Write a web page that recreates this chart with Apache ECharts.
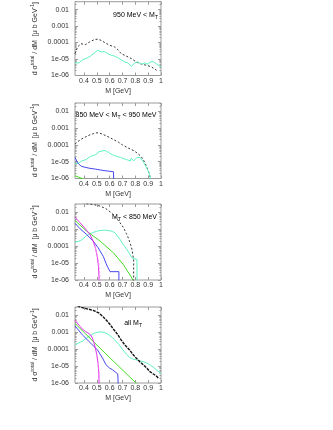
<!DOCTYPE html>
<html><head><meta charset="utf-8">
<script src="https://cdn.jsdelivr.net/npm/echarts@6/dist/echarts.min.js"></script>
<style>html,body{margin:0;padding:0;background:#fff}#c{width:333px;height:430px}</style>
</head><body><div id="c"></div>
<script>
// ---- axis ticks / labels ----
const xTicks = [0.4, 0.5, 0.6, 0.7, 0.8, 0.9, 1.0];
const xTickLabels = ['0.4', '0.5', '0.6', '0.7', '0.8', '0.9', '1'];
const yTicks = [1e-6, 1e-5, 1e-4, 1e-3, 1e-2];
const yTickLabels = ['1e-06', '1e-05', '0.0001', '0.001', '0.01'];
const yMinorTicks = [2e-6,3e-6,4e-6,5e-6,6e-6,7e-6,8e-6,9e-6,2e-5,3e-5,4e-5,5e-5,6e-5,7e-5,8e-5,9e-5,
  2e-4,3e-4,4e-4,5e-4,6e-4,7e-4,8e-4,9e-4,2e-3,3e-3,4e-3,5e-3,6e-3,7e-3,8e-3,9e-3,0.02,0.03];
const panelLabels = ['{a|950 MeV < M}{s|T}', '{a|850 MeV < M}{s|T}{a| < 950 MeV}', '{a|M}{s|T}{a| < 850 MeV}', '{a|all M}{s|T}'];

// ---- data [M (GeV), dσ/dM] ----
const p1Black = [[0.33,2.1e-5],[0.35,5.4e-5],[0.376,8.5e-5],[0.41,7.4e-5],[0.442,1.07e-4],[0.481,1.5e-4],[0.507,1.6e-4],[0.534,1.35e-4],[0.568,9.3e-5],[0.6,6.8e-5],[0.638,5.4e-5],[0.664,3.7e-5],[0.69,2.1e-5],[0.73,1.5e-5],[0.769,1.07e-5],[0.808,6.6e-6],[0.848,4.8e-6],[0.887,4.2e-6],[0.926,3.3e-6],[0.965,2.1e-6]];
const p1Cyan = [[0.33,5.8e-6],[0.345,4.8e-6],[0.36,5.8e-6],[0.375,7.5e-6],[0.39,9.1e-6],[0.405,1.0e-5],[0.42,1.1e-5],[0.435,1.4e-5],[0.45,1.5e-5],[0.465,1.7e-5],[0.48,2.3e-5],[0.495,2.8e-5],[0.507,3.4e-5],[0.52,3.0e-5],[0.534,2.7e-5],[0.547,3.1e-5],[0.56,2.8e-5],[0.573,2.4e-5],[0.586,2.1e-5],[0.6,1.9e-5],[0.612,1.7e-5],[0.625,1.6e-5],[0.638,1.5e-5],[0.65,1.4e-5],[0.664,1.2e-5],[0.677,1.05e-5],[0.69,9.1e-6],[0.703,7.8e-6],[0.717,6.6e-6],[0.73,6.2e-6],[0.743,5.8e-6],[0.756,4.5e-6],[0.769,3.6e-6],[0.782,4.6e-6],[0.795,5.8e-6],[0.808,6.0e-6],[0.822,6.6e-6],[0.835,5.5e-6],[0.848,4.8e-6],[0.861,5.2e-6],[0.874,5.8e-6],[0.887,5.3e-6],[0.9,4.8e-6],[0.913,6.5e-6],[0.926,8.3e-6],[0.939,7.0e-6],[0.952,5.8e-6],[0.965,5.0e-6],[0.978,4.2e-6],[1.0,3.3e-6]];

const p2Black = [[0.33,1.1e-4],[0.355,1.6e-4],[0.382,2.2e-4],[0.415,3.0e-4],[0.447,3.9e-4],[0.475,4.6e-4],[0.5,5.1e-4],[0.52,5.0e-4],[0.539,4.4e-4],[0.57,3.5e-4],[0.604,2.6e-4],[0.637,1.9e-4],[0.67,1.4e-4],[0.7,9.8e-5],[0.735,7.0e-5],[0.76,5.6e-5],[0.787,4.5e-5],[0.815,3.2e-5],[0.84,2.2e-5],[0.86,1.4e-5],[0.879,7.2e-6],[0.893,4.0e-6],[0.905,2.3e-6],[0.918,1.0e-6],[0.925,5e-7]];
const p2Cyan = [[0.33,7.2e-6],[0.345,6.0e-6],[0.36,8.5e-6],[0.382,1.1e-5],[0.4,1.2e-5],[0.421,1.4e-5],[0.44,1.8e-5],[0.46,2.2e-5],[0.48,2.4e-5],[0.5,2.8e-5],[0.513,3.8e-5],[0.526,4.9e-5],[0.54,4.3e-5],[0.552,4.0e-5],[0.565,4.6e-5],[0.578,4.5e-5],[0.59,3.5e-5],[0.604,2.8e-5],[0.62,2.6e-5],[0.643,2.2e-5],[0.66,2.0e-5],[0.683,1.8e-5],[0.7,1.6e-5],[0.722,1.4e-5],[0.74,1.25e-5],[0.761,1.1e-5],[0.768,1.6e-5],[0.774,1.5e-5],[0.787,1.1e-5],[0.8,1.4e-5],[0.814,1.8e-5],[0.827,2.2e-5],[0.84,1.7e-5],[0.853,1.2e-5],[0.866,8.5e-6],[0.879,5.7e-6],[0.892,3.6e-6],[0.905,2.3e-6],[0.918,1.0e-6],[0.922,5e-7]];
const p2Blue = [[0.33,1.8e-5],[0.348,9e-6],[0.365,6.5e-6],[0.382,5.2e-6],[0.415,4.5e-6],[0.447,4.0e-6],[0.49,3.6e-6],[0.526,3.2e-6],[0.58,2.8e-6],[0.63,2.5e-6],[0.632,5e-7]];
const p2Green = [[0.33,1.45e-6],[0.36,1.2e-6],[0.4,9e-7]];

const p3Black = [[0.36,0.045],[0.42,0.031],[0.47,0.028],[0.524,0.023],[0.57,0.016],[0.603,0.0105],[0.63,0.0068],[0.655,0.0042],[0.68,0.0024],[0.708,0.0012],[0.73,5.5e-4],[0.747,2.8e-4],[0.762,1.3e-4],[0.774,6.3e-5],[0.787,1.5e-5],[0.787,5e-7]];
const p3Cyan = [[0.33,1.7e-4],[0.345,2.0e-4],[0.36,1.9e-4],[0.38,2.3e-4],[0.4,3.0e-4],[0.418,4.0e-4],[0.44,5.0e-4],[0.471,6.3e-4],[0.5,7.5e-4],[0.524,8.2e-4],[0.55,8.5e-4],[0.576,8.5e-4],[0.6,8.0e-4],[0.62,7.3e-4],[0.642,6.0e-4],[0.66,4.0e-4],[0.68,2.5e-4],[0.695,1.6e-4],[0.715,1.0e-4],[0.734,6.3e-5],[0.755,3.5e-5],[0.774,2.0e-5],[0.78,1.6e-5],[0.813,1.6e-5],[0.813,5e-7]];
const p3Green = [[0.33,3.2e-3],[0.418,7.9e-4],[0.524,2.0e-4],[0.629,4.0e-5],[0.708,7.9e-6],[0.774,1.26e-6],[0.785,8e-7]];
const p3Magenta = [[0.33,5e-3],[0.366,2.5e-3],[0.4,1.3e-3],[0.445,5e-4],[0.471,2e-4],[0.489,8e-5],[0.503,2.5e-5],[0.513,6.3e-6],[0.518,1e-6],[0.518,5e-7]];
const p3MagentaDash = [[0.489,8e-5],[0.515,1e-5],[0.523,2e-6],[0.524,5e-7]];
const p3Blue = [[0.33,2.2e-3],[0.366,1.1e-3],[0.418,5e-4],[0.471,2e-4],[0.51,8e-5],[0.55,2.5e-5],[0.577,7.6e-6],[0.603,3.1e-6],[0.672,3.1e-6],[0.672,5e-7]];

const p4Black = [[0.35,0.035],[0.374,0.029],[0.439,0.022],[0.48,0.018],[0.518,0.013],[0.545,0.0085],[0.571,0.0053],[0.6,0.003],[0.624,0.0017],[0.66,7.5e-4],[0.689,3.5e-4],[0.72,1.7e-4],[0.755,8.9e-5],[0.78,5e-5],[0.808,2.9e-5],[0.835,1.8e-5],[0.861,1.2e-5],[0.89,7.5e-6],[0.913,4.7e-6],[0.94,3.4e-6],[0.966,2.5e-6],[0.98,1.9e-6]];
const p4Cyan = [[0.33,1.8e-4],[0.36,2.3e-4],[0.39,3.0e-4],[0.413,4.2e-4],[0.44,5.5e-4],[0.46,7e-4],[0.48,8.5e-4],[0.5,9.5e-4],[0.52,1.0e-3],[0.54,1.02e-3],[0.56,9.5e-4],[0.58,8e-4],[0.6,6.3e-4],[0.62,4.8e-4],[0.64,3.4e-4],[0.67,1.9e-4],[0.703,9e-5],[0.73,5e-5],[0.755,3.3e-5],[0.78,2.6e-5],[0.808,2.3e-5],[0.835,2.0e-5],[0.861,1.8e-5],[0.89,1.5e-5],[0.913,1.2e-5],[0.94,8.5e-6],[0.966,5.9e-6],[1.0,3.5e-6]];
const p4Green = [[0.33,3.2e-3],[0.564,5.8e-5],[0.805,1e-6],[0.82,7e-7]];
const p4Magenta = [[0.33,5e-3],[0.36,2.6e-3],[0.387,1.5e-3],[0.41,1.1e-3],[0.43,9e-4],[0.45,7e-4],[0.465,4.5e-4],[0.479,2.2e-4],[0.49,1e-4],[0.499,5e-5],[0.51,1.4e-5],[0.516,3e-6],[0.518,5e-7]];
const p4MagentaDash = [[0.51,1.4e-5],[0.521,3e-6],[0.523,5e-7]];
const p4Blue = [[0.33,2.3e-3],[0.387,6.9e-4],[0.453,2.2e-4],[0.505,8.9e-5],[0.545,2.9e-5],[0.571,1.2e-5],[0.6,7.5e-6],[0.624,5.9e-6],[0.663,3.4e-6],[0.668,3.2e-6],[0.668,5e-7]];

// ---- styles ----
const BLACK = '#333', CYAN = '#5ef2c2', BLUE = '#4848f0', GREEN = '#44dd22', MAGENTA = '#e030e8', PINK = '#ff88ff';
const FONT = '"Liberation Sans", Arial, sans-serif';
const TXT = '#333', FRAME = '#9a9a9a';

const panels = [
  [[p1Black, BLACK, [2,2], 1], [p1Cyan, CYAN, null, 1]],
  [[p2Black, BLACK, [2,2], 1], [p2Cyan, CYAN, null, 1], [p2Blue, BLUE, null, 1], [p2Green, GREEN, null, 1]],
  [[p3Cyan, CYAN, null, 1], [p3Green, GREEN, null, 1], [p3Blue, BLUE, null, 1], [p3Magenta, MAGENTA, null, 1], [p3MagentaDash, PINK, [2,2], 1], [p3Black, BLACK, [2,2], 1]],
  [[p4Cyan, CYAN, null, 1], [p4Green, GREEN, null, 1], [p4Blue, BLUE, null, 1], [p4Magenta, MAGENTA, null, 1], [p4MagentaDash, PINK, [2,2], 1], [p4Black, '#111', [3,1], 1.4]]
];
const layout = [{top:1,h:74.5,lx:158,ly:15,align:'right'},{top:103,h:75.5,lx:116,ly:115.5,align:'center'},{top:204,h:76,lx:157,ly:217,align:'right'},{top:307,h:76,lx:142,ly:323,align:'right'}];

const grid = [], xAxis = [], yAxis = [], series = [], graphic = [];
const richText = {
  a: {fontFamily: FONT, fontSize: 7, color: TXT, lineHeight: 10},
  s: {fontFamily: FONT, fontSize: 5, color: TXT, verticalAlign: 'bottom', lineHeight: 6},
  u: {fontFamily: FONT, fontSize: 5, color: TXT, verticalAlign: 'top', lineHeight: 6}
};
function yFmt(v) {
  for (let i = 0; i < yTicks.length; i++) if (Math.abs(Math.log10(v) - Math.log10(yTicks[i])) < 1e-6) return yTickLabels[i];
  return '';
}
function xFmt(v) {
  for (let i = 0; i < xTicks.length; i++) if (Math.abs(v - xTicks[i]) < 1e-6) return xTickLabels[i];
  return '';
}
panels.forEach((ser, i) => {
  const L = layout[i];
  grid.push({left: 75, width: 86, top: L.top, height: L.h, show: true, borderColor: FRAME, borderWidth: 1});
  const tick = (vals, len) => ({show: true, inside: true, length: len, lineStyle: {color: FRAME, width: 1}, customValues: vals});
  xAxis.push({type: 'value', gridIndex: i, min: 0.33, max: 1, position: 'bottom',
    name: 'M [GeV]', nameLocation: 'middle', nameGap: 12,
    nameTextStyle: {fontFamily: FONT, fontSize: 7, color: TXT},
    axisLine: {show: false}, splitLine: {show: false}, axisTick: tick(xTicks, 3),
    axisLabel: {customValues: xTicks, formatter: xFmt, fontFamily: FONT, fontSize: 7, color: TXT, margin: 2}});
  xAxis.push({type: 'value', gridIndex: i, min: 0.33, max: 1, position: 'top',
    axisLine: {show: false}, splitLine: {show: false}, axisTick: tick(xTicks, 3), axisLabel: {show: false}});
  const yBase = {type: 'log', logBase: 10, gridIndex: i, min: 1e-6, max: 0.03, axisLine: {show: false}, splitLine: {show: false}};
  yAxis.push(Object.assign({}, yBase, {position: 'left',
    name: '{a|d σ}{u|total}{a| / dM  [μ b GeV}{u|-1}{a|]}', nameLocation: 'middle', nameGap: 35, nameRotate: 90,
    nameTextStyle: {rich: richText},
    axisTick: tick(yTicks, 3),
    axisLabel: {customValues: yTicks, formatter: yFmt, fontFamily: FONT, fontSize: 7, color: TXT, margin: 6}}));
  yAxis.push(Object.assign({}, yBase, {position: 'left', axisTick: tick(yMinorTicks, 1.5), axisLabel: {show: false}}));
  yAxis.push(Object.assign({}, yBase, {position: 'right', axisTick: tick(yTicks, 3), axisLabel: {show: false}}));
  yAxis.push(Object.assign({}, yBase, {position: 'right', axisTick: tick(yMinorTicks, 1.5), axisLabel: {show: false}}));
  ser.forEach(([data, color, dash, w]) => {
    series.push({type: 'line', xAxisIndex: 2 * i, yAxisIndex: 4 * i, data: data, showSymbol: false, symbol: 'none',
      clip: true, animation: false, silent: true,
      lineStyle: {color: color, width: w, type: dash ? dash : 'solid'}});
  });
  graphic.push({type: 'text', x: L.lx, y: L.ly, style: {text: panelLabels[i], rich: richText, align: L.align, verticalAlign: 'middle'}});
});

const chart = echarts.init(document.getElementById('c'), null, {renderer: 'canvas'});
chart.setOption({backgroundColor: '#fff', animation: false, grid, xAxis, yAxis, series, graphic});
</script>
</body></html>
